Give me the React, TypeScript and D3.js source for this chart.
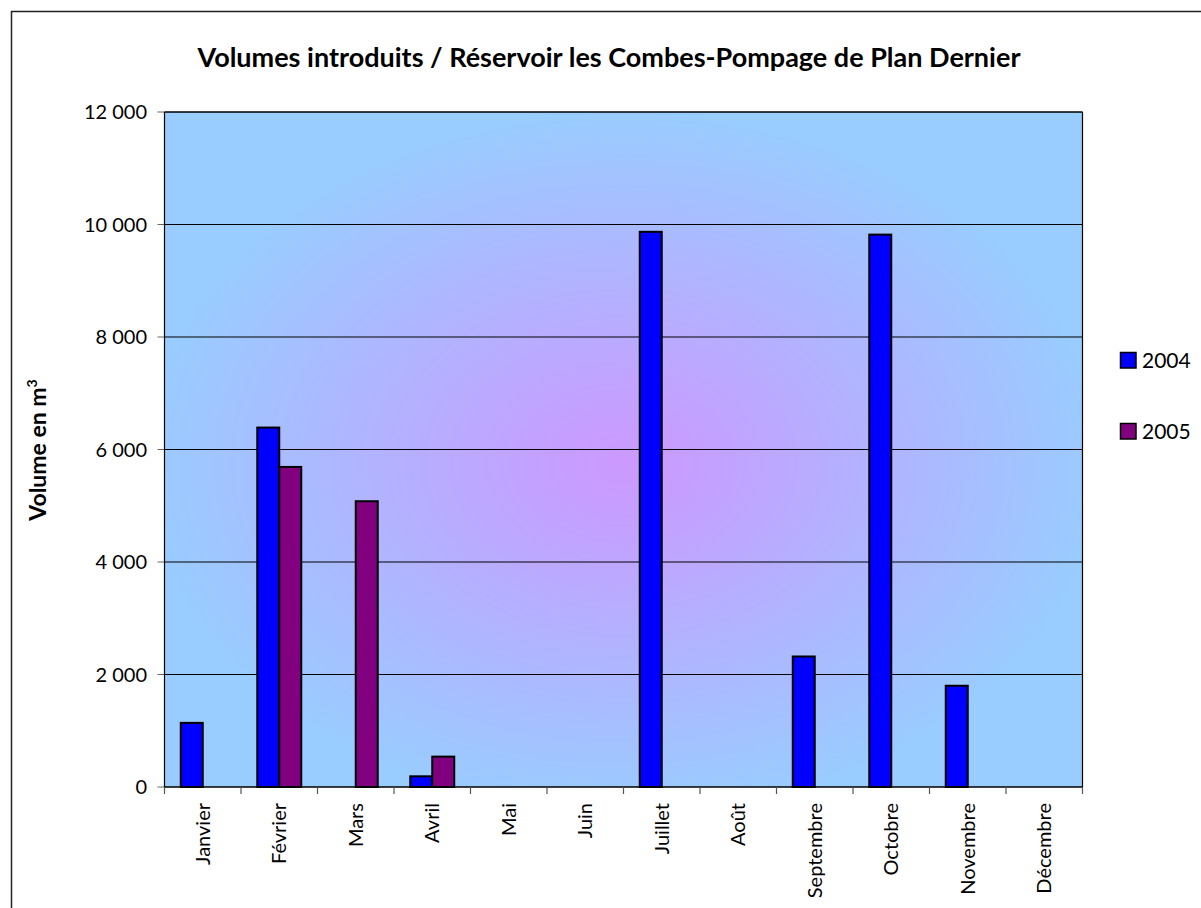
import React from "react";
import * as d3 from "d3";

const months = ["Janvier", "Février", "Mars", "Avril", "Mai", "Juin", "Juillet", "Août", "Septembre", "Octobre", "Novembre", "Décembre"];
const series = ["2004", "2005"];
const values2004 = [1140, 6390, 0, 190, 0, 0, 9870, 0, 2320, 9820, 1800, 0];
const values2005 = [0, 5690, 5080, 540, 0, 0, 0, 0, 0, 0, 0, 0];
const colors = ["#0000FF", "#800080"];
const yTicks = [0, 2000, 4000, 6000, 8000, 10000, 12000];
const title = "Volumes introduits / Réservoir les Combes-Pompage de Plan Dernier";

const W = 1201, H = 908;
const plot = { left: 164.5, right: 1082.5, top: 112, bottom: 787 };
const font = "Lato, 'Open Sans', sans-serif";

export default function App() {
  const x = d3.scaleBand<string>().domain(months).range([plot.left, plot.right]).padding(0);
  const bw = x.bandwidth();
  const xs = d3.scaleBand<string>().domain(series).range([bw * 0.2125, bw * 0.7875]).padding(0);
  const y = d3.scaleLinear().domain([0, 12000]).range([plot.bottom, plot.top]);
  const fmt = (v: number) => d3.format(",")(v).replace(/,/g, " ");
  const data = [values2004, values2005];

  return (
    <svg width={W} height={H} style={{ position: "absolute", left: 0, top: 0 }} xmlns="http://www.w3.org/2000/svg">
      <defs>
        <radialGradient id="bg" cx="50%" cy="52%" r="52%" fx="50%" fy="52%">
          <stop offset="0%" stopColor="#CC99FF" />
          <stop offset="15%" stopColor="#C59FFF" />
          <stop offset="100%" stopColor="#99CCFF" />
        </radialGradient>
      </defs>
      <rect x={0} y={0} width={W} height={H} fill="#fff" />
      <rect x={11.5} y={11.5} width={W + 50} height={H + 50} fill="#fff" stroke="#222" strokeWidth={1.5} />
      <text x={609} y={67} textAnchor="middle" fontFamily={font} fontWeight="bold" fontSize={27} fill="#000">{title}</text>

      <rect x={plot.left} y={plot.top} width={plot.right - plot.left} height={plot.bottom - plot.top} fill="url(#bg)" />
      {yTicks.filter((t) => t > 0).map((t) => (
        <line key={"g" + t} x1={plot.left} x2={plot.right} y1={y(t)} y2={y(t)} stroke="#000" strokeWidth={1} />
      ))}
      {yTicks.map((t) => (
        <g key={"yt" + t}>
          <line x1={plot.left - 7} x2={plot.left} y1={y(t)} y2={y(t)} stroke="#666" strokeWidth={1} />
          <text x={147} y={y(t)} dy="0.36em" textAnchor="end" fontFamily={font} fontSize={20} fill="#000">{fmt(t)}</text>
        </g>
      ))}
      {months.map((m, i) =>
        data.map((vals, s) =>
          vals[i] > 0 ? (
            <rect key={m + s} x={(x(m) as number) + (xs(series[s]) as number)} y={y(vals[i])} width={xs.bandwidth()} height={plot.bottom - y(vals[i])} fill={colors[s]} stroke="#000" strokeWidth={2} />
          ) : null
        )
      )}
      <line x1={plot.left} x2={plot.left} y1={plot.top} y2={plot.bottom} stroke="#000" strokeWidth={1.2} />
      <line x1={plot.right} x2={plot.right} y1={plot.top} y2={plot.bottom} stroke="#000" strokeWidth={1.2} />
      <line x1={plot.left} x2={plot.right} y1={plot.top} y2={plot.top} stroke="#000" strokeWidth={1.2} />
      <line x1={plot.left} x2={plot.right} y1={plot.bottom} y2={plot.bottom} stroke="#000" strokeWidth={1.5} />
      {months.concat(["end"]).map((m, i) => {
        const xx = plot.left + i * bw;
        return <line key={"xt" + i} x1={xx} x2={xx} y1={plot.bottom} y2={plot.bottom + 7} stroke="#555" strokeWidth={1.2} />;
      })}
      {months.map((m) => {
        const cx = (x(m) as number) + bw / 2;
        return (
          <text key={"xl" + m} transform={`translate(${cx},803) rotate(-90)`} dy="0.36em" textAnchor="end" fontFamily={font} fontSize={20} fill="#000">{m}</text>
        );
      })}
      <text transform="translate(38,450) rotate(-90)" dy="0.36em" textAnchor="middle" fontFamily={font} fontWeight="bold" fontSize={23} fill="#000">
        Volume en m<tspan dy="-9" fontSize={14}>3</tspan>
      </text>
      {series.map((s, i) => (
        <g key={"lg" + s}>
          <rect x={1120.5} y={352.5 + i * 71} width={15.5} height={15.5} fill={colors[i]} stroke="#000" strokeWidth={1.5} />
          <text x={1142} y={368 + i * 71} fontFamily={font} fontSize={21} fill="#000">{s}</text>
        </g>
      ))}
    </svg>
  );
}
